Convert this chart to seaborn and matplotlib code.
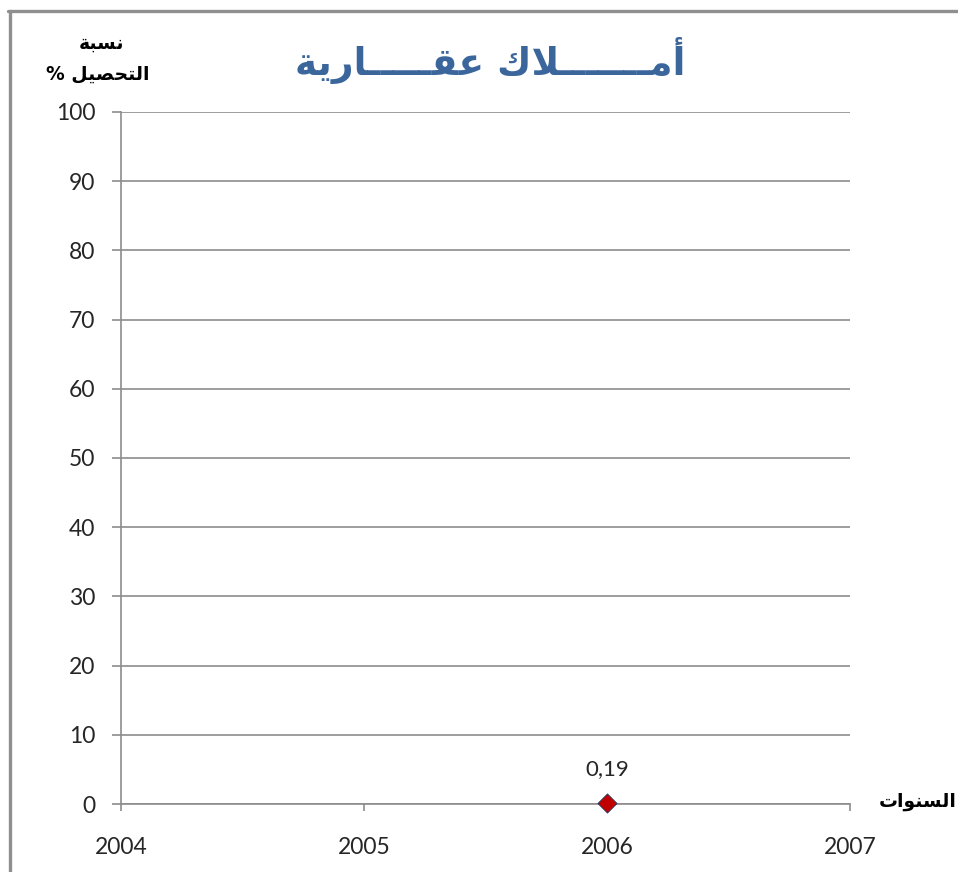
import matplotlib
matplotlib.use("Agg")
import matplotlib.pyplot as plt
from matplotlib.lines import Line2D
import seaborn as sns
import pandas as pd

# ---- data ----
years = [2006]
rates = [0.19]
value_labels = ["0,19"]
x_ticks = [2004, 2005, 2006, 2007]
y_ticks = [0, 10, 20, 30, 40, 50, 60, 70, 80, 90, 100]

title_text = "أمـــــــلاك عقـــــارية"
ylabel_line1 = "نسبة"
ylabel_line2 = "التحصيل %"
xlabel_text = "السنوات"

# ---- minimal Arabic shaping (contextual forms + visual order) ----
# letter: (isolated, final, initial, medial); None for initial/medial = right-joining only
FORMS = {
    "\u0627": ("\uFE8D", "\uFE8E", None, None),
    "\u0623": ("\uFE83", "\uFE84", None, None),
    "\u0631": ("\uFEAD", "\uFEAE", None, None),
    "\u0648": ("\uFEED", "\uFEEE", None, None),
    "\u0629": ("\uFE93", "\uFE94", None, None),
    "\u0628": ("\uFE8F", "\uFE90", "\uFE91", "\uFE92"),
    "\u062A": ("\uFE95", "\uFE96", "\uFE97", "\uFE98"),
    "\u062D": ("\uFEA1", "\uFEA2", "\uFEA3", "\uFEA4"),
    "\u0633": ("\uFEB1", "\uFEB2", "\uFEB3", "\uFEB4"),
    "\u0635": ("\uFEB9", "\uFEBA", "\uFEBB", "\uFEBC"),
    "\u0639": ("\uFEC9", "\uFECA", "\uFECB", "\uFECC"),
    "\u0642": ("\uFED5", "\uFED6", "\uFED7", "\uFED8"),
    "\u0643": ("\uFED9", "\uFEDA", "\uFEDB", "\uFEDC"),
    "\u0644": ("\uFEDD", "\uFEDE", "\uFEDF", "\uFEE0"),
    "\u0645": ("\uFEE1", "\uFEE2", "\uFEE3", "\uFEE4"),
    "\u0646": ("\uFEE5", "\uFEE6", "\uFEE7", "\uFEE8"),
    "\u064A": ("\uFEF1", "\uFEF2", "\uFEF3", "\uFEF4"),
    "\u0640": ("\u0640", "\u0640", "\u0640", "\u0640"),
    "LA": ("\uFEFB", "\uFEFC", None, None),
    "LAH": ("\uFEF7", "\uFEF8", None, None),
}


def shape(text):
    units = []
    i = 0
    while i < len(text):
        c = text[i]
        if c == "\u0644" and i + 1 < len(text) and text[i + 1] in ("\u0627", "\u0623"):
            units.append("LA" if text[i + 1] == "\u0627" else "LAH")
            i += 2
        else:
            units.append(c)
            i += 1

    def dual(u):
        return u in FORMS and FORMS[u][2] is not None

    out = []
    for k, u in enumerate(units):
        if u not in FORMS:
            out.append(u)
            continue
        prev_joins = k > 0 and dual(units[k - 1])
        next_joins = dual(u) and k + 1 < len(units) and units[k + 1] in FORMS
        iso, fin, ini, med = FORMS[u]
        if prev_joins and next_joins:
            out.append(med)
        elif prev_joins:
            out.append(fin)
        elif next_joins:
            out.append(ini)
        else:
            out.append(iso)
    return "".join(out)[::-1]


df = pd.DataFrame({"year": years, "rate": rates})

sns.set_theme(style="white")
plt.rcParams["font.family"] = ["Lato", "DejaVu Sans"]

fig = plt.figure(figsize=(9.58, 8.72), dpi=100)
ax = fig.add_axes([121 / 958, 68 / 872, (850 - 121) / 958, (804 - 112) / 872])

grid_color = "#8c8c8c"
ax.set_axisbelow(True)
ax.yaxis.grid(True, color=grid_color, linewidth=1.2)
ax.xaxis.grid(False)

sns.scatterplot(data=df, x="year", y="rate", marker="D", s=95,
                color="#C00000", edgecolor="#1F3864", linewidth=0.6,
                ax=ax, zorder=5, clip_on=False, legend=False)

for x, y, lab in zip(years, rates, value_labels):
    ax.annotate(lab, (x, y), xytext=(0, 17), textcoords="offset points",
                ha="center", va="bottom", fontsize=16, color="#262626")

ax.set_xlim(x_ticks[0], x_ticks[-1])
ax.set_ylim(y_ticks[0], y_ticks[-1])
ax.set_xticks(x_ticks)
ax.set_yticks(y_ticks)
ax.set_xticklabels([str(t) for t in x_ticks])
ax.set_yticklabels([str(t) for t in y_ticks])
ax.set_xlabel("")
ax.set_ylabel("")

for side in ("top", "right"):
    ax.spines[side].set_visible(False)
for side in ("left", "bottom"):
    ax.spines[side].set_visible(True)
    ax.spines[side].set_color(grid_color)
    ax.spines[side].set_linewidth(1.2)

ax.tick_params(axis="y", direction="out", length=6.5, width=1.2, color=grid_color,
               pad=12, labelsize=16.5, labelcolor="#262626", left=True)
ax.tick_params(axis="x", direction="out", length=5, width=1.2, color=grid_color,
               pad=19, labelsize=16.5, labelcolor="#262626", bottom=True)

arabic_font = ["DejaVu Sans"]
fig.text(490 / 958, 1 - 60 / 872, shape(title_text), ha="center", va="center",
         fontsize=27, fontweight="bold", color="#3A669C", family=arabic_font)
fig.text(101 / 958, 1 - 43 / 872, shape(ylabel_line1), ha="center", va="center",
         fontsize=13.5, fontweight="bold", color="black", family=arabic_font)
fig.text(98 / 958, 1 - 74 / 872, shape(ylabel_line2), ha="center", va="center",
         fontsize=13.5, fontweight="bold", color="black", family=arabic_font)
fig.text(918 / 958, 1 - 801 / 872, shape(xlabel_text), ha="center", va="center",
         fontsize=13.5, fontweight="bold", color="black", family=arabic_font)

# chart-area frame (left and top edges)
frame_color = "#8f8f8f"
fig.add_artist(Line2D([9.5 / 958, 9.5 / 958], [0, 1 - 11 / 872],
                      transform=fig.transFigure, color=frame_color, linewidth=2.4))
fig.add_artist(Line2D([8.3 / 958, 1], [1 - 11 / 872, 1 - 11 / 872],
                      transform=fig.transFigure, color=frame_color, linewidth=2.4))

fig.savefig("out.png", dpi=100, facecolor="white")
